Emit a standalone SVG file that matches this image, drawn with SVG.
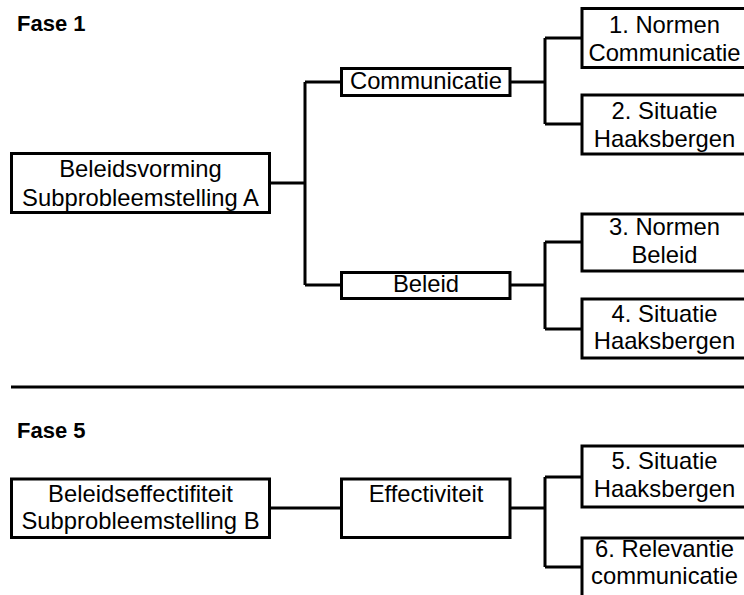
<svg xmlns="http://www.w3.org/2000/svg" width="744" height="595" viewBox="0 0 744 595">
<style>
.box{fill:#fff;stroke:#000;stroke-width:3}
.t{font-family:"Liberation Sans",Arial,sans-serif;font-size:23.8px;fill:#000;text-anchor:middle}
.h{font-family:"Liberation Sans",Arial,sans-serif;font-size:22px;font-weight:bold;fill:#000}
.c{fill:none;stroke:#000;stroke-width:3}
</style>
<rect width="744" height="595" fill="#fff"/>
<text class="h" x="17" y="31">Fase 1</text>
<text class="h" x="17" y="438">Fase 5</text>
<g id="connectors">
<path class="c" d="M271 183H305M305 82V285M305 82H341M305 285H341"/>
<path class="c" d="M511 82H545M545 38V124M545 38H582M545 124H582"/>
<path class="c" d="M511 285H545M545 242V329M545 242H582M545 329H582"/>
<path class="c" d="M271 508H341M511 508H545M545 477V567M545 477H582M545 567H582"/>
<path class="c" d="M11 387H744" stroke-width="3.5"/>
</g>
<g id="beleidsvorming">
<rect class="box" x="11.5" y="153.5" width="258" height="59"/>
<text class="t" x="140.5" y="177">Beleidsvorming</text>
<text class="t" x="140.5" y="206">Subprobleemstelling A</text>
</g>
<g id="communicatie">
<rect class="box" x="341.5" y="68.5" width="168.5" height="27"/>
<text class="t" x="426" y="88.5">Communicatie</text>
</g>
<g id="beleid">
<rect class="box" x="341.5" y="272.5" width="168.5" height="26"/>
<text class="t" x="426" y="292">Beleid</text>
</g>
<g id="n1">
<rect class="box" x="582" y="8.5" width="166" height="59"/>
<text class="t" x="664.5" y="32.5">1. Normen</text>
<text class="t" x="664.5" y="60.5">Communicatie</text>
</g>
<g id="n2">
<rect class="box" x="582" y="95" width="166" height="59"/>
<text class="t" x="664.5" y="119">2. Situatie</text>
<text class="t" x="664.5" y="147">Haaksbergen</text>
</g>
<g id="n3">
<rect class="box" x="582" y="214" width="166" height="57"/>
<text class="t" x="664.5" y="235">3. Normen</text>
<text class="t" x="664.5" y="263">Beleid</text>
</g>
<g id="n4">
<rect class="box" x="582" y="299" width="166" height="59"/>
<text class="t" x="664.5" y="321.5">4. Situatie</text>
<text class="t" x="664.5" y="349">Haaksbergen</text>
</g>
<g id="beleidseffectiviteit">
<rect class="box" x="11.5" y="479" width="258" height="58.5"/>
<text class="t" x="140.5" y="501.5">Beleidseffectifiteit</text>
<text class="t" x="140.5" y="529">Subprobleemstelling B</text>
</g>
<g id="effectiviteit">
<rect class="box" x="341.5" y="479" width="168.5" height="58.5"/>
<text class="t" x="426" y="501.5">Effectiviteit</text>
</g>
<g id="n5">
<rect class="box" x="582" y="446" width="166" height="61"/>
<text class="t" x="664.5" y="469">5. Situatie</text>
<text class="t" x="664.5" y="497">Haaksbergen</text>
</g>
<g id="n6">
<rect class="box" x="582" y="538" width="166" height="62"/>
<text class="t" x="664.5" y="556.5">6. Relevantie</text>
<text class="t" x="664.5" y="583.5">communicatie</text>
</g>
</svg>
